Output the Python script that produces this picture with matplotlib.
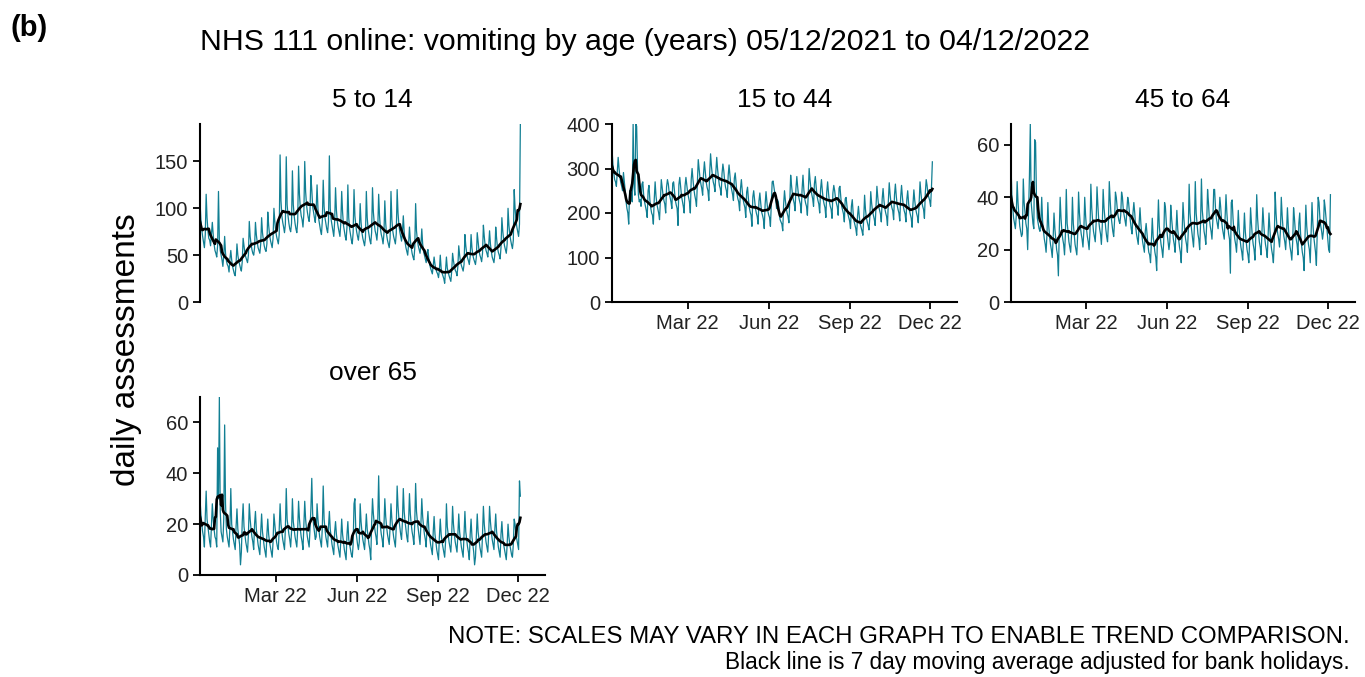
import pandas as pd
import matplotlib.pyplot as plt
import matplotlib.ticker as mticker

plt.rcParams['font.family'] = ['Liberation Sans', 'DejaVu Sans']

START_DATE = '2021-12-05'
TICK_DATES = ['2022-03-01', '2022-06-01', '2022-09-01', '2022-12-01']
TICK_LABELS = ['Mar 22', 'Jun 22', 'Sep 22', 'Dec 22']
PANEL_TITLES = ['5 to 14', '15 to 44', '45 to 64', 'over 65']

# daily assessments, one week per line (Sunday first)
age_5_14 = [
    108, 88, 77, 70, 64, 58, 72,
    115, 90, 76, 68, 66, 60, 72,
    85, 72, 62, 55, 52, 48, 60,
    118, 66, 55, 50, 45, 38, 50,
    70, 52, 44, 40, 38, 32, 46,
    55, 45, 38, 34, 30, 28, 42,
    62, 50, 44, 40, 36, 33, 43,
    68, 60, 52, 48, 45, 42, 50,
    86, 70, 62, 56, 52, 50, 58,
    85, 72, 64, 58, 55, 52, 62,
    90, 74, 66, 60, 56, 54, 62,
    96, 82, 72, 66, 62, 58, 68,
    100, 86, 76, 70, 66, 62, 72,
    157, 108, 92, 85, 80, 74, 83,
    155, 104, 92, 84, 78, 75, 84,
    140, 104, 92, 84, 78, 74, 86,
    145, 115, 100, 92, 88, 80, 94,
    150, 118, 104, 96, 90, 86, 98,
    135, 120, 102, 96, 90, 85, 100,
    125, 100, 88, 82, 76, 72, 87,
    130, 102, 90, 84, 78, 74, 86,
    156, 100, 88, 82, 76, 70, 86,
    122, 98, 86, 80, 75, 70, 85,
    118, 96, 82, 76, 70, 66, 80,
    125, 90, 78, 72, 66, 62, 74,
    120, 92, 82, 75, 70, 66, 76,
    105, 85, 74, 68, 64, 60, 69,
    118, 90, 78, 72, 66, 62, 74,
    122, 96, 84, 76, 72, 66, 79,
    115, 92, 78, 72, 68, 62, 73,
    108, 84, 72, 66, 62, 58, 68,
    118, 88, 76, 70, 66, 62, 73,
    120, 95, 82, 75, 70, 65, 74,
    92, 75, 64, 58, 54, 50, 62,
    80, 66, 58, 52, 48, 45, 57,
    105, 76, 66, 60, 56, 52, 61,
    78, 62, 54, 50, 46, 42, 53,
    56, 46, 40, 36, 33, 30, 39,
    48, 40, 35, 32, 30, 26, 34,
    50, 36, 31, 28, 25, 20, 34,
    48, 36, 32, 28, 25, 22, 33,
    52, 44, 38, 34, 32, 28, 38,
    60, 50, 43, 39, 36, 33, 40,
    72, 60, 52, 47, 44, 40, 49,
    72, 58, 50, 46, 43, 40, 48,
    74, 64, 55, 50, 47, 43, 52,
    82, 70, 60, 55, 52, 48, 60,
    76, 62, 54, 48, 45, 42, 51,
    80, 68, 58, 53, 50, 46, 58,
    90, 76, 66, 60, 56, 52, 62,
    100, 82, 72, 66, 61, 57, 66,
    120, 100, 88, 80, 75, 70, 83,
    190,
]

age_15_44 = [
    345, 310, 290, 275, 270, 260, 294,
    325, 300, 280, 268, 260, 250, 291,
    270, 250, 225, 210, 200, 175, 250,
    250, 240, 225, 400, 260, 240, 400,
    395, 300, 240, 225, 230, 215, 265,
    270, 240, 225, 215, 205, 190, 250,
    262, 230, 212, 200, 195, 175, 231,
    270, 238, 220, 210, 200, 185, 231,
    275, 258, 240, 228, 220, 200, 259,
    275, 265, 245, 235, 225, 210, 267,
    270, 248, 228, 218, 210, 172, 264,
    280, 260, 238, 226, 215, 200, 261,
    280, 262, 245, 235, 225, 200, 275,
    300, 275, 255, 240, 230, 215, 270,
    320, 300, 278, 265, 255, 240, 288,
    315, 292, 270, 258, 250, 228, 291,
    333, 305, 285, 270, 262, 248, 292,
    325, 298, 278, 262, 255, 240, 288,
    310, 295, 272, 258, 250, 235, 284,
    308, 285, 262, 252, 242, 228, 278,
    290, 265, 243, 232, 225, 205, 255,
    275, 250, 230, 220, 212, 190, 247,
    258, 232, 212, 202, 195, 170, 236,
    250, 230, 210, 200, 192, 175, 227,
    245, 222, 202, 195, 186, 165, 220,
    248, 225, 205, 196, 190, 170, 222,
    270, 272, 258, 245, 230, 210, 230,
    225, 200, 185, 180, 175, 160, 219,
    250, 228, 210, 200, 192, 178, 226,
    285, 262, 242, 230, 222, 205, 255,
    282, 258, 238, 228, 220, 200, 254,
    285, 252, 232, 222, 215, 195, 244,
    300, 275, 255, 242, 232, 215, 266,
    282, 258, 238, 228, 220, 200, 254,
    275, 250, 230, 220, 212, 190, 247,
    270, 245, 225, 215, 208, 188, 245,
    262, 250, 232, 222, 214, 195, 256,
    260, 235, 215, 206, 198, 180, 232,
    235, 215, 198, 190, 182, 165, 215,
    230, 200, 182, 174, 165, 150, 194,
    215, 192, 175, 168, 160, 150, 186,
    240, 208, 190, 180, 172, 162, 192,
    248, 222, 204, 195, 186, 172, 215,
    260, 235, 215, 206, 198, 180, 232,
    255, 228, 210, 200, 192, 172, 227,
    268, 242, 222, 212, 205, 185, 241,
    265, 238, 218, 208, 200, 182, 236,
    262, 235, 215, 205, 198, 180, 231,
    250, 222, 205, 196, 188, 168, 220,
    252, 228, 210, 200, 192, 178, 224,
    270, 245, 225, 215, 208, 188, 245,
    275, 262, 242, 235, 228, 215, 258,
    315,
]

age_45_64 = [
    53, 40, 36, 32, 30, 28, 33,
    46, 38, 33, 29, 27, 25, 26,
    47, 38, 34, 30, 28, 20, 34,
    48, 68, 38, 34, 30, 28, 62,
    61, 40, 32, 30, 28, 27, 30,
    40, 31, 27, 24, 22, 19, 26,
    38, 29, 25, 22, 20, 17, 24,
    34, 28, 24, 20, 18, 10, 27,
    40, 32, 27, 24, 22, 18, 26,
    43, 30, 27, 23, 21, 19, 26,
    40, 30, 26, 22, 20, 18, 26,
    42, 34, 29, 26, 24, 21, 27,
    40, 33, 28, 25, 23, 20, 27,
    45, 36, 31, 27, 25, 23, 30,
    44, 37, 31, 28, 26, 22, 29,
    43, 36, 32, 28, 25, 23, 30,
    46, 39, 33, 30, 27, 25, 31,
    42, 40, 36, 33, 31, 30, 33,
    42, 40, 35, 33, 31, 29, 35,
    40, 38, 34, 31, 28, 26, 34,
    38, 34, 29, 26, 24, 22, 30,
    36, 30, 26, 23, 21, 19, 27,
    30, 26, 22, 19, 18, 15, 24,
    32, 25, 22, 19, 17, 12, 27,
    39, 29, 25, 22, 20, 17, 23,
    38, 36, 30, 26, 23, 20, 23,
    37, 32, 28, 24, 22, 19, 27,
    35, 28, 24, 21, 19, 15, 26,
    38, 32, 27, 24, 22, 19, 27,
    45, 34, 30, 27, 24, 21, 29,
    46, 34, 30, 26, 24, 20, 30,
    47, 35, 31, 27, 25, 22, 30,
    43, 38, 32, 29, 27, 24, 31,
    43, 43, 36, 32, 30, 28, 33,
    40, 36, 31, 28, 26, 24, 32,
    41, 34, 29, 26, 24, 11, 38,
    39, 32, 27, 24, 22, 19, 26,
    35, 28, 24, 21, 19, 16, 25,
    34, 27, 23, 20, 18, 15, 24,
    36, 30, 25, 22, 20, 16, 26,
    41, 32, 27, 23, 21, 18, 27,
    36, 30, 25, 22, 20, 17, 25,
    34, 28, 23, 20, 18, 15, 23,
    42, 34, 29, 26, 24, 21, 27,
    40, 33, 28, 25, 23, 20, 27,
    36, 29, 24, 21, 19, 16, 23,
    36, 32, 27, 24, 22, 18, 30,
    34, 26, 22, 19, 17, 12, 24,
    37, 29, 25, 22, 20, 15, 27,
    38, 30, 25, 22, 19, 14, 27,
    40, 38, 32, 29, 27, 24, 27,
    39, 36, 32, 28, 24, 20, 19,
    41,
]

age_over_65 = [
    30, 24, 20, 17, 15, 11, 23,
    33, 22, 19, 16, 13, 11, 19,
    28, 22, 18, 15, 14, 11, 50,
    30, 70, 25, 17, 15, 13, 22,
    59, 28, 18, 15, 13, 11, 19,
    34, 20, 17, 14, 12, 10, 19,
    26, 18, 15, 12, 4, 9, 21,
    28, 19, 16, 13, 11, 9, 16,
    28, 22, 18, 15, 13, 10, 20,
    25, 18, 15, 12, 10, 8, 17,
    24, 17, 14, 11, 9, 7, 16,
    22, 16, 13, 11, 9, 7, 13,
    24, 20, 16, 13, 11, 10, 18,
    28, 20, 17, 14, 12, 10, 18,
    34, 22, 19, 16, 14, 11, 17,
    30, 21, 18, 15, 13, 11, 18,
    29, 22, 18, 15, 13, 10, 19,
    29, 22, 18, 15, 13, 11, 18,
    26, 38, 24, 20, 17, 14, 15,
    28, 22, 18, 15, 13, 11, 19,
    35, 22, 18, 15, 13, 11, 19,
    25, 18, 15, 12, 10, 8, 17,
    21, 16, 13, 11, 9, 7, 14,
    22, 16, 13, 10, 8, 6, 16,
    21, 14, 12, 10, 8, 7, 12,
    28, 30, 18, 15, 12, 10, 13,
    28, 21, 17, 14, 12, 10, 17,
    24, 18, 15, 12, 10, 6, 20,
    30, 24, 20, 17, 15, 12, 22,
    39, 22, 19, 16, 14, 11, 19,
    30, 23, 19, 16, 14, 12, 19,
    28, 22, 18, 15, 13, 11, 19,
    35, 27, 22, 19, 16, 14, 21,
    34, 25, 21, 18, 15, 13, 21,
    32, 24, 20, 17, 15, 12, 20,
    36, 25, 21, 18, 15, 12, 20,
    30, 23, 19, 16, 14, 11, 20,
    25, 18, 15, 12, 10, 8, 17,
    23, 16, 13, 10, 8, 6, 15,
    22, 16, 13, 11, 9, 7, 13,
    28, 19, 16, 13, 11, 9, 16,
    27, 20, 16, 13, 11, 9, 16,
    24, 17, 14, 11, 9, 7, 16,
    25, 17, 14, 11, 9, 6, 16,
    22, 15, 12, 9, 4, 7, 15,
    24, 17, 14, 11, 9, 7, 16,
    27, 20, 16, 13, 11, 9, 16,
    27, 21, 17, 14, 12, 10, 18,
    24, 17, 14, 11, 9, 7, 16,
    21, 15, 12, 10, 8, 6, 12,
    20, 15, 12, 10, 8, 7, 12,
    22, 20, 16, 14, 12, 10, 37,
    31,
]

Y_LIMITS = [190, 400, 68, 70]
Y_STEPS = [50, 100, 20, 20]

TEAL = '#117f93'
W, H = 1365, 677


def px_axes(fig, left, top, right, bottom):
    """Adds an axes given pixel edges measured from the top-left corner."""
    return fig.add_axes([left / W, 1 - bottom / H, (right - left) / W, (bottom - top) / H])


def draw_panel(ax, dates, values, title, ymax, ystep, show_x):
    series = pd.Series(values, index=dates)
    smooth = series.rolling(7, center=True, min_periods=1).mean()

    ax.plot(dates, series.values, color=TEAL, lw=0.9)
    ax.plot(dates, smooth.values, color='black', lw=1.9)

    ax.set_xlim(dates[0], dates[0] + pd.Timedelta(days=392))
    ax.set_ylim(0, ymax)
    ax.yaxis.set_major_locator(mticker.MultipleLocator(ystep))

    for side in ['top', 'right']:
        ax.spines[side].set_visible(False)
    ax.spines['left'].set_linewidth(1.5)
    ax.spines['bottom'].set_linewidth(1.5)
    ax.tick_params(axis='both', length=5, width=1.3, labelsize=14.5,
                   colors='black', labelcolor='#222222')

    ax.set_xticks(pd.to_datetime(TICK_DATES))
    ax.set_xticklabels(TICK_LABELS)
    if not show_x:
        ax.spines['bottom'].set_visible(False)
        ax.tick_params(axis='x', bottom=False, labelbottom=False)

    ax.set_title(title, fontsize=19, pad=12)


def main():
    dates = pd.date_range(START_DATE, periods=len(age_5_14), freq='D')
    series_list = [age_5_14, age_15_44, age_45_64, age_over_65]

    fig = plt.figure(figsize=(W / 100, H / 100), dpi=100)

    boxes = [
        (200, 124, 545, 302),
        (612, 124, 957, 302),
        (1011, 124, 1355, 302),
        (200, 397, 545, 575),
    ]
    show_x = [False, True, True, True]

    for box, values, title, ymax, ystep, sx in zip(boxes, series_list, PANEL_TITLES,
                                                    Y_LIMITS, Y_STEPS, show_x):
        ax = px_axes(fig, *box)
        draw_panel(ax, dates, values, title, ymax, ystep, sx)

    fig.text(10 / W, 1 - 28 / H, '(b)', fontsize=21, fontweight='bold', va='center')
    fig.text(200 / W, 1 - 42 / H,
             'NHS 111 online: vomiting by age (years) 05/12/2021 to 04/12/2022',
             fontsize=21.8, va='center')
    fig.text(126 / W, 1 - 350 / H, 'daily assessments', fontsize=24,
             rotation=90, va='center', ha='center')
    fig.text(1350 / W, 1 - 637 / H,
             'NOTE: SCALES MAY VARY IN EACH GRAPH TO ENABLE TREND COMPARISON.',
             fontsize=17.3, ha='right', va='center')
    fig.text(1350 / W, 1 - 663 / H,
             'Black line is 7 day moving average adjusted for bank holidays.',
             fontsize=16.3, ha='right', va='center')

    fig.savefig('out.png', dpi=100)
    plt.close(fig)


if __name__ == "__main__":
    main()
